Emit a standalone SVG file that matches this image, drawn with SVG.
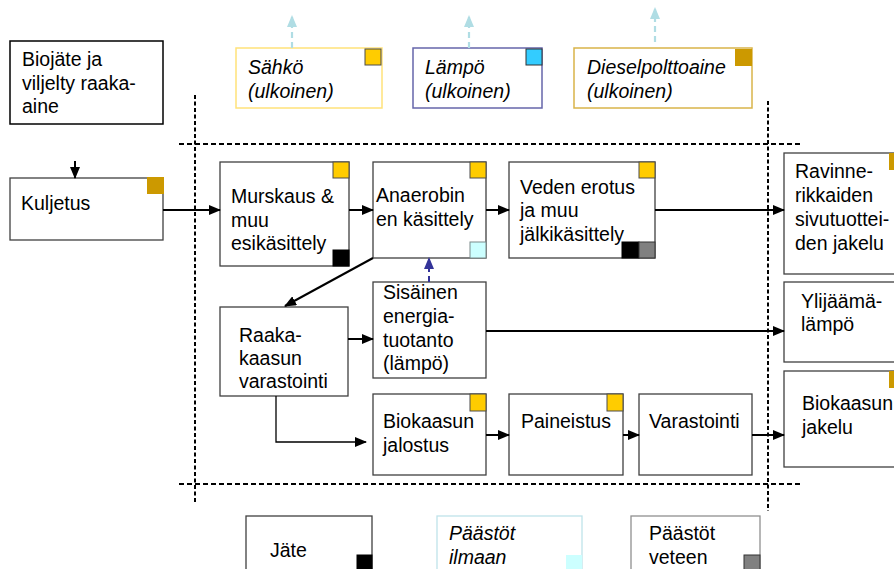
<svg xmlns="http://www.w3.org/2000/svg" width="894" height="569" viewBox="0 0 894 569">
  <style>
    .box { fill: #ffffff; stroke: #404040; stroke-width: 1.3; }
    .t { font-family: "Liberation Sans", Arial, sans-serif; font-size: 19.5px; fill: #000000; }
    .it { font-style: italic; }
    .sq-y { fill: #FFCC00; stroke: #4d4d4d; stroke-width: 1; }
    .sq-b { fill: #CC9900; stroke: none; }
    .sq-k { fill: #000000; stroke: #000000; stroke-width: 1; }
    .sq-g { fill: #808080; stroke: #333333; stroke-width: 1; }
    .sq-c { fill: #CCFFFF; stroke: #7a8a8a; stroke-width: 1; }
    .sq-l { fill: #33CCFF; stroke: #333333; stroke-width: 1; }
    .flow { fill: none; stroke: #000000; stroke-width: 2; marker-end: url(#ah); }
    .thin { stroke-width: 1.3; }
    .ext { fill: none; stroke: #B0DDE4; stroke-width: 2.2; stroke-dasharray: 6 4; marker-end: url(#ah-ext); }
    .int { fill: none; stroke: #333399; stroke-width: 2; stroke-dasharray: 6 4; marker-end: url(#ah-int); }
    .bound-h { fill: none; stroke: #000000; stroke-width: 2; stroke-dasharray: 5 3; }
    .bound-v { fill: none; stroke: #000000; stroke-width: 2; stroke-dasharray: 4 2.5; }
  </style>
  <defs>
    <marker id="ah" markerUnits="userSpaceOnUse" markerWidth="12" markerHeight="10" refX="11" refY="5" orient="auto">
      <path d="M0,0 L12,5 L0,10 z" fill="#000000"/>
    </marker>
    <marker id="ah-ext" markerUnits="userSpaceOnUse" markerWidth="12" markerHeight="12" refX="10" refY="5" orient="auto">
      <path d="M0,0 L12,5 L0,10 z" fill="#B0DDE4"/>
    </marker>
    <marker id="ah-int" markerUnits="userSpaceOnUse" markerWidth="12" markerHeight="12" refX="10" refY="5" orient="auto">
      <path d="M0,0 L12,5 L0,10 z" fill="#333399"/>
    </marker>
  </defs>

  <rect width="894" height="569" fill="#ffffff"/>

  <!-- system boundary -->
  <g id="boundary">
    <line class="bound-h" x1="179" y1="144" x2="800" y2="144"/>
    <line class="bound-h" x1="179" y1="484" x2="800" y2="484"/>
    <line class="bound-v" x1="195" y1="95" x2="195" y2="504"/>
    <line class="bound-v" x1="768" y1="101" x2="768" y2="511"/>
  </g>

  <!-- inputs -->
  <g id="biojate">
    <rect x="10" y="41" width="153" height="83" fill="#ffffff" stroke="#000000" stroke-width="1.5"/>
    <text class="t" x="22" y="66">Biojäte ja</text>
    <text class="t" x="22" y="90">viljelty raaka-</text>
    <text class="t" x="22" y="113">aine</text>
  </g>

  <g id="sahko">
    <rect x="236" y="48" width="146" height="60" fill="#ffffff" stroke="#FFE27A" stroke-width="1.5"/>
    <rect class="sq-y" x="365" y="49" width="16" height="16"/>
    <text class="t it" x="248" y="74">Sähkö</text>
    <text class="t it" x="248" y="98">(ulkoinen)</text>
  </g>

  <g id="lampo">
    <rect x="413" y="48" width="129" height="60" fill="#ffffff" stroke="#6666AA" stroke-width="1.5"/>
    <rect class="sq-l" x="526" y="49" width="16" height="16"/>
    <text class="t it" x="425" y="74">Lämpö</text>
    <text class="t it" x="425" y="98">(ulkoinen)</text>
  </g>

  <g id="diesel">
    <rect x="574" y="48" width="178" height="60" fill="#ffffff" stroke="#D9B44A" stroke-width="1.5"/>
    <rect class="sq-b" x="735" y="49" width="17" height="17"/>
    <text class="t it" x="587" y="74">Dieselpolttoaine</text>
    <text class="t it" x="587" y="98">(ulkoinen)</text>
  </g>

  <g id="kuljetus">
    <rect class="box" x="10" y="178" width="153" height="62"/>
    <rect class="sq-b" x="147" y="177" width="17" height="17"/>
    <text class="t" x="21" y="210">Kuljetus</text>
  </g>

  <!-- process chain -->
  <g id="murskaus">
    <rect class="box" x="220" y="162" width="129" height="104"/>
    <rect class="sq-y" x="333" y="162" width="16" height="16"/>
    <rect class="sq-k" x="333" y="250" width="16" height="16"/>
    <text class="t" x="231" y="203">Murskaus &amp;</text>
    <text class="t" x="231" y="227">muu</text>
    <text class="t" x="231" y="250">esikäsittely</text>
  </g>

  <g id="anaerobin">
    <rect class="box" x="373" y="162" width="113" height="96"/>
    <rect class="sq-y" x="470" y="162" width="16" height="16"/>
    <rect class="sq-c" x="470" y="242" width="16" height="16"/>
    <text class="t" x="376" y="202">Anaerobin</text>
    <text class="t" x="376" y="226">en käsittely</text>
  </g>

  <g id="veden">
    <rect class="box" x="509" y="162" width="146" height="96"/>
    <rect class="sq-y" x="639" y="162" width="16" height="16"/>
    <text class="t" x="520" y="194">Veden erotus</text>
    <text class="t" x="520" y="217">ja muu</text>
    <text class="t" x="520" y="241">jälkikäsittely</text>
    <rect class="sq-k" x="622" y="242" width="17" height="16"/>
    <rect class="sq-g" x="639" y="242" width="16" height="16"/>
  </g>

  <g id="raakakaasu">
    <rect class="box" x="220" y="307" width="128" height="89"/>
    <text class="t" x="239" y="342">Raaka-</text>
    <text class="t" x="239" y="365">kaasun</text>
    <text class="t" x="239" y="388">varastointi</text>
  </g>

  <g id="sisainen">
    <rect class="box" x="373" y="282" width="113" height="96"/>
    <text class="t" x="383" y="299">Sisäinen</text>
    <text class="t" x="383" y="323">energia-</text>
    <text class="t" x="383" y="347">tuotanto</text>
    <text class="t" x="383" y="370">(lämpö)</text>
  </g>

  <g id="jalostus">
    <rect class="box" x="373" y="394" width="113" height="81"/>
    <rect class="sq-y" x="470" y="394" width="16" height="17"/>
    <text class="t" x="383" y="428">Biokaasun</text>
    <text class="t" x="383" y="452">jalostus</text>
  </g>

  <g id="paineistus">
    <rect class="box" x="509" y="394" width="114" height="81"/>
    <rect class="sq-y" x="607" y="394" width="16" height="17"/>
    <text class="t" x="521" y="428">Paineistus</text>
  </g>

  <g id="varastointi">
    <rect class="box" x="639" y="394" width="113" height="81"/>
    <text class="t" x="649" y="428">Varastointi</text>
  </g>

  <!-- outputs -->
  <g id="ravinne">
    <rect class="box" x="784" y="153" width="120" height="121"/>
    <rect class="sq-b" x="889" y="153" width="17" height="17"/>
    <text class="t" x="795" y="178">Ravinne-</text>
    <text class="t" x="795" y="202">rikkaiden</text>
    <text class="t" x="795" y="226">sivutuottei-</text>
    <text class="t" x="795" y="250">den jakelu</text>
  </g>

  <g id="ylijaama">
    <rect class="box" x="784" y="282" width="120" height="80"/>
    <text class="t" x="801" y="308">Ylijäämä-</text>
    <text class="t" x="801" y="331">lämpö</text>
  </g>

  <g id="biokaasun-jakelu">
    <rect class="box" x="784" y="371" width="120" height="96"/>
    <rect class="sq-b" x="889" y="371" width="17" height="17"/>
    <text class="t" x="802" y="410">Biokaasun</text>
    <text class="t" x="802" y="434">jakelu</text>
  </g>

  <!-- legend -->
  <g id="jate">
    <rect class="box" x="246" y="516" width="126" height="70"/>
    <rect class="sq-k" x="357" y="555" width="15" height="16"/>
    <text class="t" x="270" y="557">Jäte</text>
  </g>

  <g id="paastot-ilmaan">
    <rect x="437" y="516" width="145" height="70" fill="#ffffff" stroke="#BFE3EA" stroke-width="1.3"/>
    <rect x="566" y="555" width="16" height="16" fill="#CCFFFF"/>
    <text class="t it" x="449" y="540">Päästöt</text>
    <text class="t it" x="449" y="564">ilmaan</text>
  </g>

  <g id="paastot-veteen">
    <rect x="631" y="516" width="129" height="70" fill="#ffffff" stroke="#909090" stroke-width="1.3"/>
    <rect class="sq-g" x="744" y="555" width="16" height="16"/>
    <text class="t" x="649" y="540">Päästöt</text>
    <text class="t" x="649" y="564">veteen</text>
  </g>

  <!-- connectors -->
  <g id="connectors">
    <path class="ext" d="M292,48 V17"/>
    <path class="ext" d="M469,48 V17"/>
    <path class="ext" d="M655,42 V9"/>
    <path class="flow" d="M75,161 V178"/>
    <path class="flow" d="M163,210 H220"/>
    <path class="flow" d="M349,210 H373"/>
    <path class="flow" d="M486,210 H509"/>
    <path class="flow" d="M655,210 H784"/>
    <path class="flow" d="M373,258 L285,306"/>
    <path class="int" d="M429,282 V259"/>
    <path class="flow" d="M348,339 H373"/>
    <path class="flow" d="M486,331 H784"/>
    <path class="flow thin" d="M276,396 V442 H366"/>
    <path class="flow" d="M486,435 H509"/>
    <path class="flow" d="M623,435 H639"/>
    <path class="flow" d="M752,435 H784"/>
  </g>
</svg>
